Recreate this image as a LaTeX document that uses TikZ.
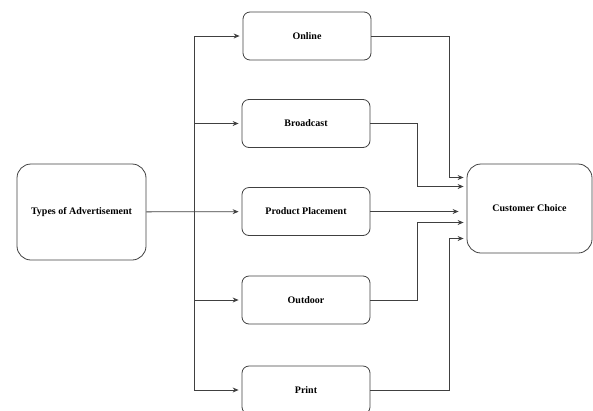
\documentclass[tikz,border=0pt]{standalone}
\usepackage{fontspec}
\setmainfont{Liberation Serif}
\usetikzlibrary{arrows.meta}

\begin{document}
\begin{tikzpicture}[x=1pt,y=-1pt,
box/.style={draw=black!75, line width=0.8pt, rounded corners=7pt, minimum width=128pt, minimum height=48pt, font=\bfseries\fontsize{10}{12}\selectfont},
bigbox/.style={box, rounded corners=14pt},
arr/.style={draw=black!75, line width=0.8pt, -{Stealth[length=6pt,width=5pt]}, shorten >=3pt}]
\useasboundingbox (0,0) rectangle (593,410);
\clip (0,0) rectangle (593,410);
\node[bigbox, minimum width=129pt, minimum height=96pt] (types) at (81.5,212) {Types of Advertisement};
\node[bigbox, minimum width=125pt, minimum height=89pt] (choice) at (529.5,208.5) {Customer Choice};
\node[box] (online) at (307,36) {Online};
\node[box] (broadcast) at (306,123.5) {Broadcast};
\node[box] (product) at (306,211.5) {Product Placement};
\node[box] (outdoor) at (306,300) {Outdoor};
\node[box] (print) at (306,390) {Print};
\coordinate (split) at (194,212);
\draw[arr] (types) -- (product);
\foreach \n in {online,broadcast,outdoor,print} \draw[arr] (split) |- (\n.west);
\draw[arr] (online.east) -| ([xshift=-17pt,yshift=31pt]choice.west) -- ([yshift=31pt]choice.west);
\draw[arr] (broadcast.east) -| ([xshift=-49pt,yshift=22pt]choice.west) -- ([yshift=22pt]choice.west);
\draw[arr, shorten >=8pt] (product.east) -- (product.east -| choice.west);
\draw[arr] (outdoor.east) -| ([xshift=-49pt,yshift=-14pt]choice.west) -- ([yshift=-14pt]choice.west);
\draw[arr] (print.east) -| ([xshift=-17pt,yshift=-30pt]choice.west) -- ([yshift=-30pt]choice.west);
\end{tikzpicture}
\end{document}
